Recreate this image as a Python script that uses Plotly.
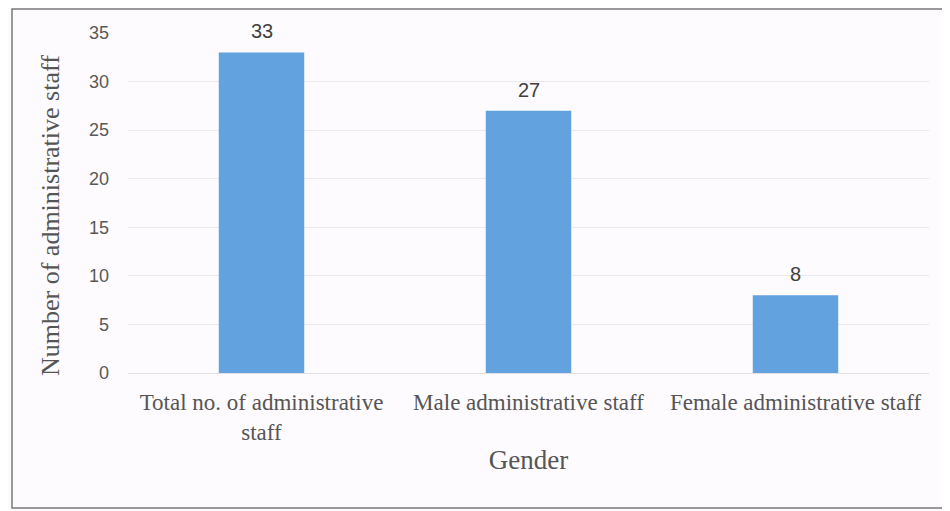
import plotly.graph_objects as go

categories = ["Total no. of administrative<br>staff", "Male administrative staff", "Female administrative staff"]
values = [33, 27, 8]
y_ticks = [0, 5, 10, 15, 20, 25, 30, 35]

# page has an 8px body margin; figure sized so it fits the 950x511 window
W, H = 942, 503
L, R, T, B = 120, 21, 25, 138

fig = go.Figure(go.Bar(
    x=categories, y=values,
    marker=dict(color="#62a2de", line=dict(width=0)),
    cliponaxis=False,
))

pw, ph = W - L - R, H - T - B
def px(x): return (x - L) / pw
def py(y): return (H - B - y) / ph

# data labels above bars
for c, v in zip(categories, values):
    fig.add_annotation(x=c, y=v, text=str(v), showarrow=False, yanchor="bottom", yshift=8,
                       font=dict(family="Liberation Sans, Arial", size=20, color="#404040"))

# y-axis title (positioned as in reference)
fig.add_annotation(xref="paper", yref="paper", x=px(42), y=py(208), text="Number of administrative staff",
                   textangle=-90, showarrow=False, xanchor="center", yanchor="middle",
                   font=dict(family="Liberation Serif, Times New Roman", size=26, color="#555555"))

fig.add_shape(type="rect", xref="paper", yref="paper",
              x0=px(4), x1=px(938), y0=py(1), y1=py(500),
              line=dict(color="#7a7a7a", width=1.5), fillcolor="rgba(0,0,0,0)", layer="below")

fig.update_layout(
    width=W, height=H,
    margin=dict(l=L, r=R, t=T, b=B),
    paper_bgcolor="#fdfbfd", plot_bgcolor="#fdfbfd",
    bargap=0.68, showlegend=False,
    xaxis=dict(
        title=dict(text="Gender", font=dict(family="Liberation Serif, Times New Roman", size=27, color="#555555"), standoff=6),
        tickfont=dict(family="Liberation Serif, Times New Roman", size=23, color="#555555"),
        showline=True, linecolor="#e4dfe4", ticks="", showgrid=False, ticklabelstandoff=8,
    ),
    yaxis=dict(
        range=[0, 35], tickvals=y_ticks,
        tickfont=dict(family="Liberation Sans, Arial", size=18, color="#595959"),
        showgrid=True, gridcolor="#ece8ec", zeroline=False, ticks="", ticklabelstandoff=18,
    ),
)

fig.write_html("out.html")
